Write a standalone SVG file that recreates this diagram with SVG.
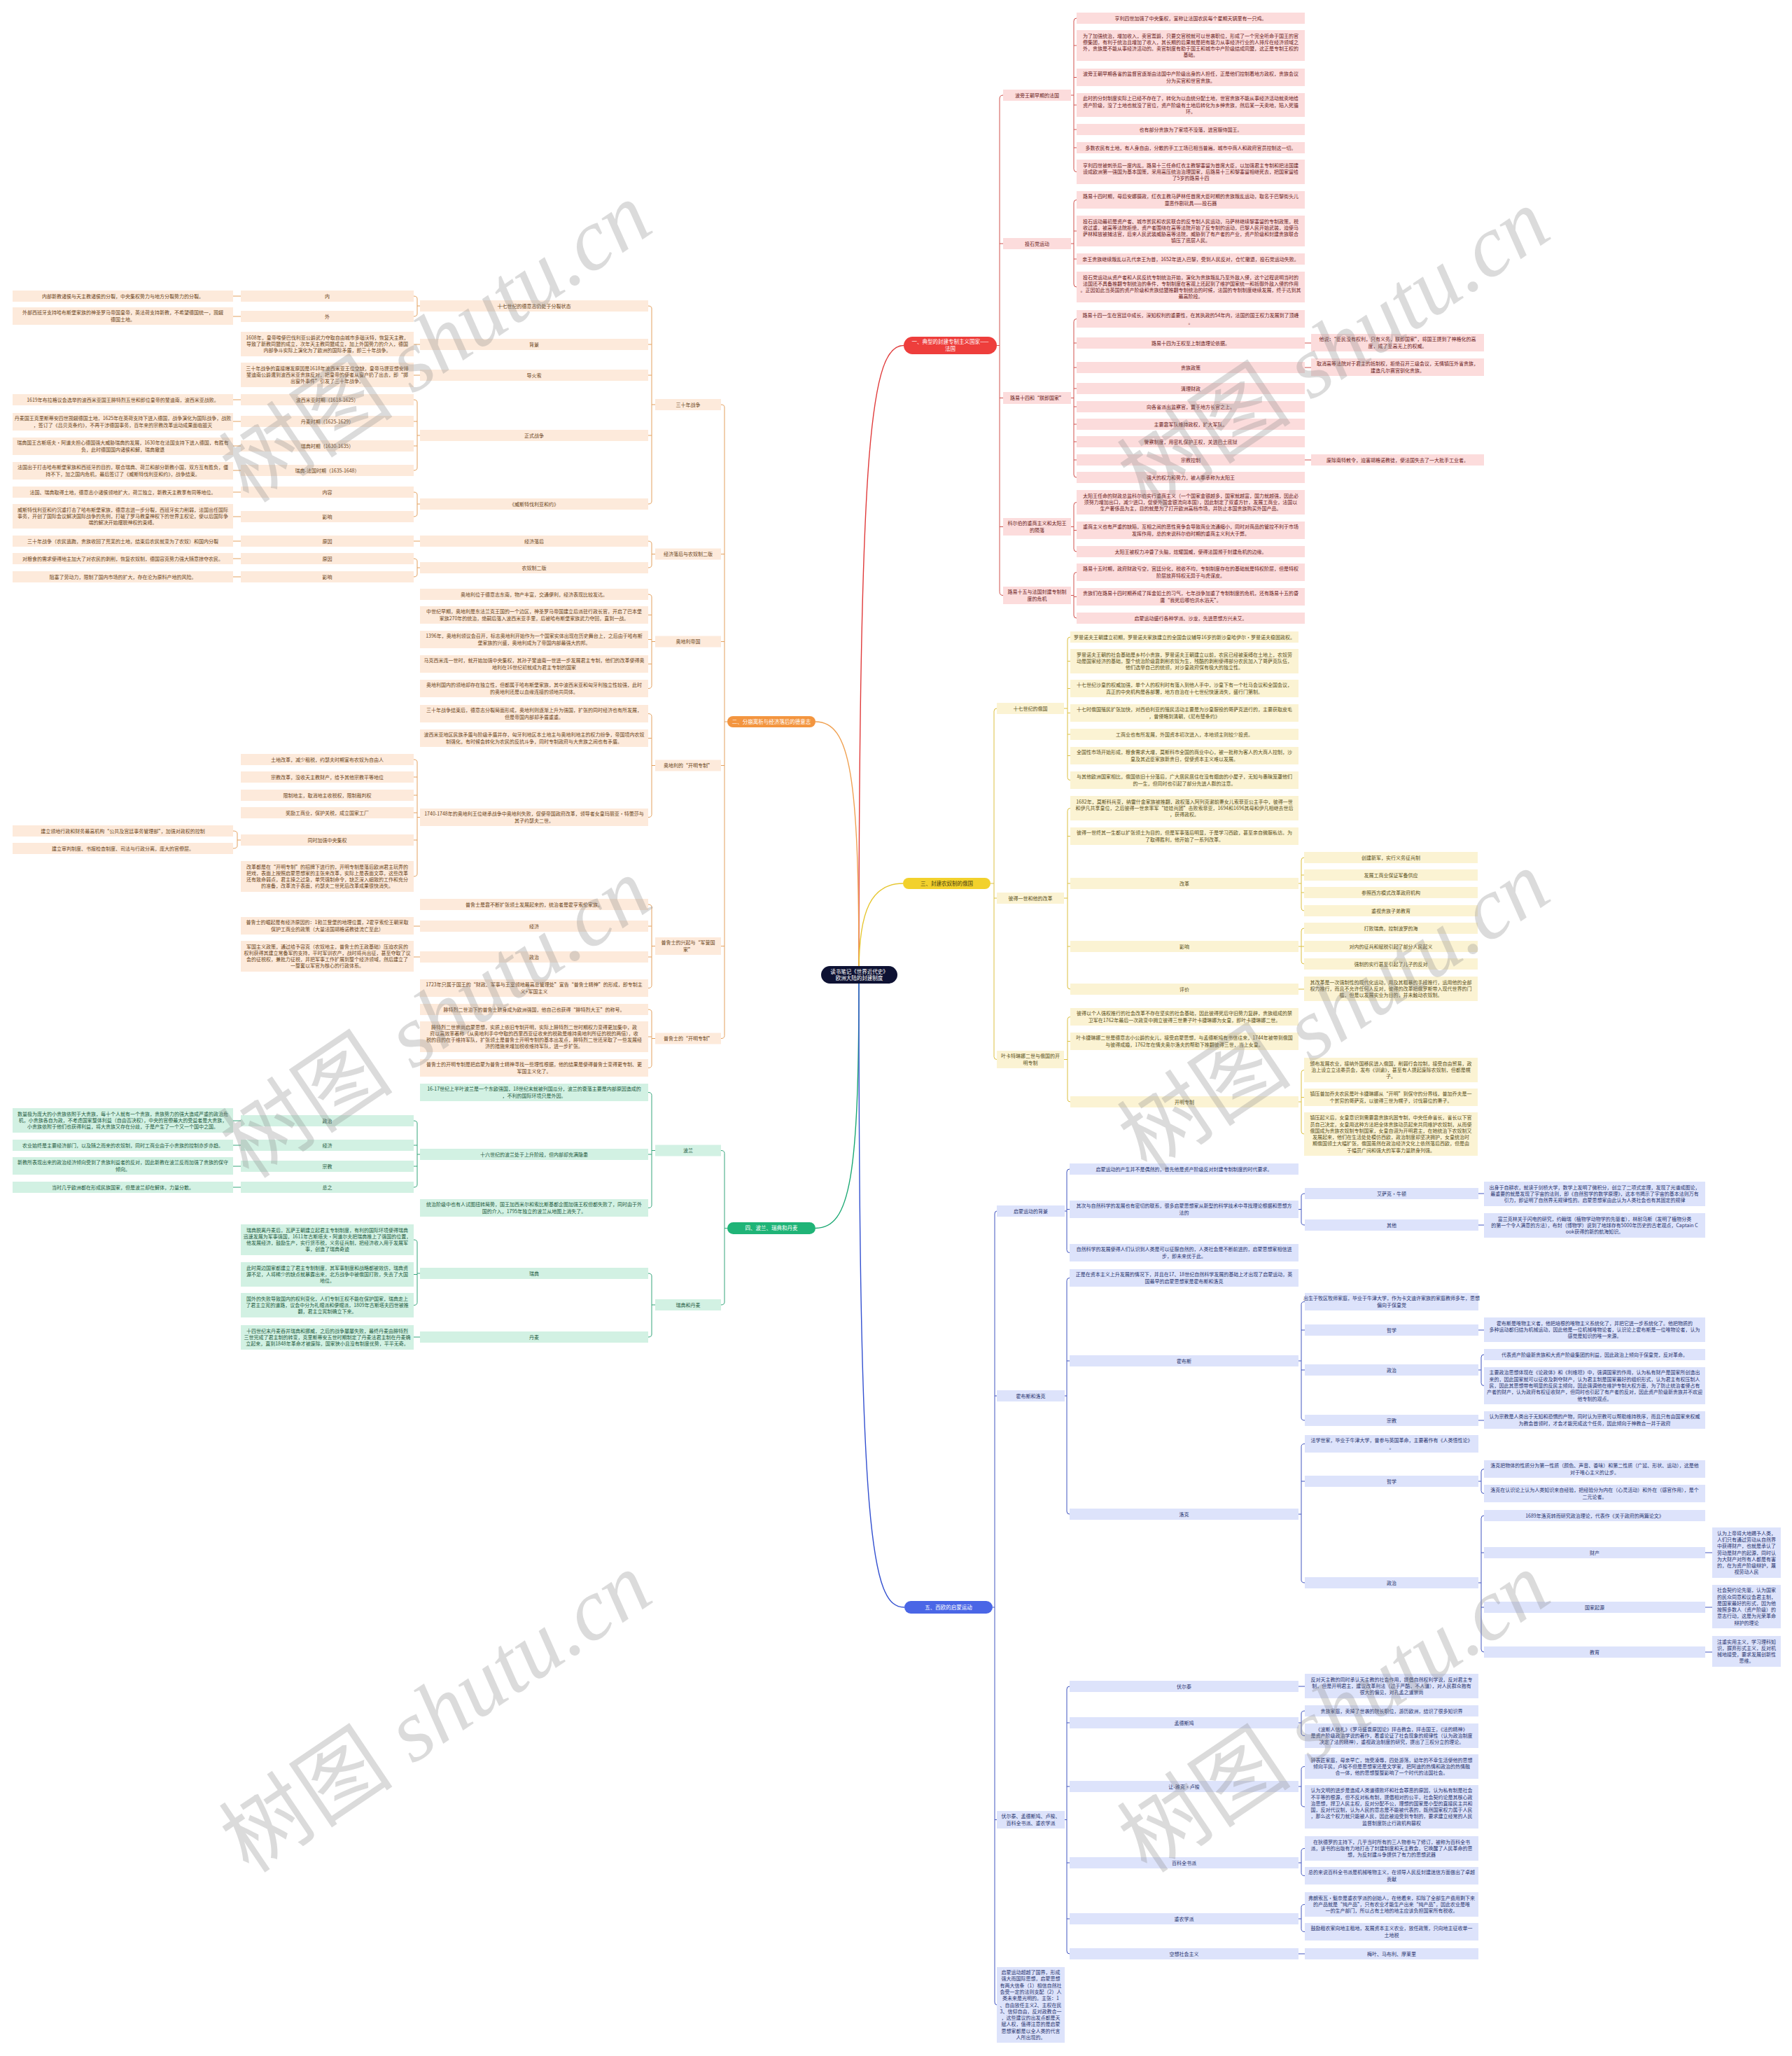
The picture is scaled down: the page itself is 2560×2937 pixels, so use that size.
<svg xmlns="http://www.w3.org/2000/svg" width="2560" height="2937" viewBox="0 0 2560 2937">
<style>
text{font-family:"Noto Sans CJK SC","Noto Sans",sans-serif;font-size:7px;text-anchor:middle}
.r rect{fill:#fcdcdc}.r text{fill:#6a2020}
.o rect{fill:#fdeadb}.o text{fill:#6b4520}
.y rect{fill:#fbf3d3}.y text{fill:#5a5020}
.g rect{fill:#d2f1e3}.g text{fill:#1d5a40}
.b rect{fill:#dde3fb}.b text{fill:#28336e}
.lab text{font-size:7.5px;fill:#fff}
.cr,.co,.cy,.cg,.cb{fill:none;stroke-width:1}
.cr{stroke:#d0504c}.co{stroke:#e3a05e}.cy{stroke:#dcc040}.cg{stroke:#34a57a}.cb{stroke:#4054c0}
.main{fill:none;stroke-width:1.4}
.wm{font-size:125px;fill:#8c8c8c;opacity:.3;text-anchor:start}
</style>
<rect width="2560" height="2937" fill="#fff"/>

<g id="connectors">
<path class="main" stroke="#e03a3a" d="M1227 1380C1227 620 1245 493.5 1291 493.5"/>
<path class="main" stroke="#f0a050" d="M1227 1388C1227 1110 1215 1031 1165 1031"/>
<path class="main" stroke="#e6c630" d="M1227 1388C1227 1300 1245 1262 1290 1262"/>
<path class="main" stroke="#1aa872" d="M1227 1398C1227 1680 1215 1754.5 1165 1754.5"/>
<path class="main" stroke="#3350d0" d="M1227 1405C1227 2200 1245 2296 1292 2296"/>

<path class="cr" d="M1424 493.5H1428M1433 136Q1428 136 1428 141V845.5Q1428 850.5 1433 850.5M1428 348H1433M1428 568.5H1433M1428 752.5H1433"/>
<path class="cr" d="M1530 136H1534M1538 26Q1534 26 1534 30V241.5Q1534 245.5 1538 245.5M1534 65H1538M1534 110.5H1538M1534 150H1538M1534 185H1538M1534 211H1538"/>
<path class="cr" d="M1530 348H1534M1538 285.5Q1534 285.5 1534 289.5V406Q1534 410 1538 410M1534 330H1538M1534 370H1538"/>
<path class="cr" d="M1530 568.5H1534M1538 455.5Q1534 455.5 1534 459.5V678Q1534 682 1538 682M1534 490H1538M1534 525H1538M1534 555H1538M1534 581H1538M1534 606H1538M1534 631H1538M1534 657H1538"/>
<path class="cr" d="M1530 752.5H1534M1538 717.5Q1534 717.5 1534 721.5V784Q1534 788 1538 788M1534 757.5H1538"/>
<path class="cr" d="M1530 850.5H1534M1538 817.5Q1534 817.5 1534 821.5V879Q1534 883 1538 883M1534 852.5H1538"/>
<path class="cr" d="M1864 490H1873M1864 525H1873M1864 657H1873"/>

<path class="cy" d="M1415 1262H1420M1424 1012Q1420 1012 1420 1016V1509.5Q1420 1513.5 1424 1513.5M1420 1283H1424"/>
<path class="cy" d="M1520 1012H1525M1529 910Q1525 910 1525 914V1110.5Q1525 1114.5 1529 1114.5M1525 944.5H1529M1525 983.5H1529M1525 1018.5H1529M1525 1049H1529M1525 1079.5H1529"/>
<path class="cy" d="M1520 1283H1525M1529 1154.5Q1525 1154.5 1525 1158.5V1409Q1525 1413 1529 1413M1525 1194.5H1529M1525 1262H1529M1525 1352H1529"/>
<path class="cy" d="M1520 1513.5H1525M1529 1452.5Q1525 1452.5 1525 1456.5V1570Q1525 1574 1529 1574M1525 1487.5H1529"/>
<path class="cy" d="M1855 1262H1859M1863 1225Q1859 1225 1859 1229V1297Q1859 1301 1863 1301M1859 1250H1863M1859 1275H1863"/>
<path class="cy" d="M1855 1352H1863M1863 1326Q1859 1326 1859 1330V1373Q1859 1377 1863 1377"/>
<path class="cy" d="M1855 1413H1863"/>
<path class="cy" d="M1855 1574H1859M1863 1528.5Q1859 1528.5 1859 1532.5V1616Q1859 1620 1863 1620M1859 1567.5H1863"/>

<path class="cb" d="M1418 2296H1421M1424 1730Q1421 1730 1421 1734V2860Q1421 2864 1424 2864M1421 1994H1424M1421 2599.5H1424"/>
<path class="cb" d="M1521 1730H1524M1528 1670Q1524 1670 1524 1674V1785.5Q1524 1789.5 1528 1789.5M1524 1727.5H1528"/>
<path class="cb" d="M1855 1727.5H1859M1864 1705Q1859 1705 1859 1709V1746Q1859 1750 1864 1750M2112 1705H2120M2112 1750H2120"/>
<path class="cb" d="M1521 1994H1524M1528 1825.5Q1524 1825.5 1524 1829.5V2159Q1524 2163 1528 2163M1524 1944H1528"/>
<path class="cb" d="M1855 1944H1859M1864 1859.5Q1859 1859.5 1859 1863.5V2025Q1859 2029 1864 2029M1859 1900H1864M1859 1957H1864"/>
<path class="cb" d="M2112 1900H2120M2112 1957H2116M2120 1935Q2116 1935 2116 1939V1975.5Q2116 1979.5 2120 1979.5M2112 2029H2120"/>
<path class="cb" d="M1855 2163H1859M1864 2062.5Q1859 2062.5 1859 2066.5V2257Q1859 2261 1864 2261M1859 2116H1864"/>
<path class="cb" d="M2112 2116H2116M2120 2098.5Q2116 2098.5 2116 2102.5V2129.5Q2116 2133.5 2120 2133.5M2112 2261H2116M2120 2165Q2116 2165 2116 2169V2356Q2116 2360 2120 2360M2116 2218H2120M2116 2296H2120M2436 2218H2446M2436 2296H2446M2436 2360H2446"/>
<path class="cb" d="M1521 2599.5H1524M1528 2409Q1524 2409 1524 2413V2787Q1524 2791 1528 2791M1524 2461H1528M1524 2552H1528M1524 2661H1528M1524 2741H1528"/>
<path class="cb" d="M1855 2409H1864M1855 2461H1859M1864 2444Q1859 2444 1859 2448V2475.5Q1859 2479.5 1864 2479.5M1855 2552H1859M1864 2523.5Q1859 2523.5 1859 2527.5V2577Q1859 2581 1864 2581M1855 2661H1859M1864 2640.5Q1859 2640.5 1859 2644.5V2675.5Q1859 2679.5 1864 2679.5M1855 2741H1859M1864 2720.5Q1859 2720.5 1859 2724.5V2755.5Q1859 2759.5 1864 2759.5M1855 2791H1864"/>

<path class="co" d="M1039 1031H1035M1030 578Q1035 578 1035 582V1479.5Q1035 1483.5 1030 1483.5M1035 791.5H1030M1035 916.5H1030M1035 1093.5H1030M1035 1351.5H1030"/>
<path class="co" d="M936 578H931M926 437Q931 437 931 441V716Q931 720 926 720M931 492H926M931 536H926M931 622H926"/>
<path class="co" d="M600 437H596M591 423Q596 423 596 427V448Q596 452 591 452M344 423H333M344 452H333M600 492H591M600 536H591"/>
<path class="co" d="M600 622H596M591 571Q596 571 596 575V668Q596 672 591 672M596 602H591M596 637H591M344 571H333M344 602H333M344 637H333M344 672H333"/>
<path class="co" d="M600 720H596M591 703Q596 703 596 707V734Q596 738 591 738M344 703H333M344 738H333"/>
<path class="co" d="M936 791.5H931M926 773Q931 773 931 777V807Q931 811 926 811M600 773H591M344 773H333M600 811H596M591 798Q596 798 596 802V820Q596 824 591 824M344 798H333M344 824H333"/>
<path class="co" d="M936 916.5H931M926 849Q931 849 931 853V979.5Q931 983.5 926 983.5M931 878.5H926M931 913.5H926M931 948.5H926"/>
<path class="co" d="M936 1093.5H931M926 1019.5Q931 1019.5 931 1023.5V1163.5Q931 1167.5 926 1167.5M931 1054.5H926"/>
<path class="co" d="M600 1167.5H596M591 1085Q596 1085 596 1089V1248Q596 1252 591 1252M596 1110H591M596 1136H591M596 1161H591M596 1200H591M344 1200H339M333 1187Q339 1187 339 1191V1208Q339 1212 333 1212"/>
<path class="co" d="M936 1351.5H931M926 1292Q931 1292 931 1296V1407.5Q931 1411.5 926 1411.5M931 1323H926M931 1367H926M600 1323H591M600 1367H591"/>
<path class="co" d="M936 1483.5H931M926 1442Q931 1442 931 1446V1521.5Q931 1525.5 926 1525.5M931 1481H926"/>

<path class="cg" d="M1039 1754.5H1035M1030 1643.5Q1035 1643.5 1035 1647.5V1860Q1035 1864 1030 1864"/>
<path class="cg" d="M936 1643.5H931M926 1560.5Q931 1560.5 931 1564.5V1721.5Q931 1725.5 926 1725.5M931 1649H926"/>
<path class="cg" d="M600 1649H596M591 1601Q596 1601 596 1605V1692Q596 1696 591 1696M596 1636H591M596 1666H591M344 1601H333M344 1636H333M344 1666H333M344 1696H333"/>
<path class="cg" d="M936 1864H931M926 1819Q931 1819 931 1823V1906Q931 1910 926 1910M600 1819H596M591 1771Q596 1771 596 1775V1860.5Q596 1864.5 591 1864.5M596 1820.5H591M600 1910H591"/>
</g>

<g id="center"><rect x="1173" y="1380" width="109" height="25" rx="12.5" fill="#0e1233"/><text x="1227.5" y="1390.5" style="fill:#fff;font-size:7.5px">读书笔记《世界近代史》<tspan x="1227.5" dy="9.3">欧洲大陆的封建制度</tspan></text></g>

<!-- RED -->
<g id="r0" class="lab"><rect x="1291" y="481" width="133" height="25" rx="12.5" fill="#ee3e3c"/><text x="1357.5" y="491.3">一、典型的封建专制主义国家——<tspan x="1357.5" dy="9.3">法国</tspan></text></g>
<g id="r1" class="r"><rect x="1433" y="128" width="97" height="16"/><text x="1481.5" y="138.5">波旁王朝早期的法国</text></g>
<g id="r2" class="r"><rect x="1433" y="340" width="97" height="16"/><text x="1481.5" y="350.5">投石党运动</text></g>
<g id="r3" class="r"><rect x="1433" y="560" width="97" height="17"/><text x="1481.5" y="571">路易十四和“朕即国家”</text></g>
<g id="r4" class="r"><rect x="1433" y="740" width="97" height="25"/><text x="1481.5" y="750.3">科尔伯的重商主义和太阳王<tspan x="1481.5" dy="9.3">的陨落</tspan></text></g>
<g id="r5" class="r"><rect x="1433" y="838" width="97" height="25"/><text x="1481.5" y="848.3">路易十五与法国封建专制制<tspan x="1481.5" dy="9.3">度的危机</tspan></text></g>

<g id="r1a" class="r"><rect x="1538" y="18" width="326" height="16"/><text x="1701" y="28.5">亨利四世加强了中央集权，宣称让法国农民每个星期天锅里有一只鸡。</text></g>
<g id="r1b" class="r"><rect x="1538" y="43" width="326" height="44"/><text x="1701" y="53.5">为了加强统治，增加收入，卖官鬻爵，只要交官税就可以世袭职位，形成了一个完全听命于国王的官<tspan x="1701" dy="9.3">僚集团，有利于统治且增加了收入，其长期的后果就是把有能力从事经济行业的人排斥在经济领域之</tspan><tspan x="1701" dy="9.3">外，贵族是不能从事经济活动的。卖官制度有助于国王和城市中产阶级结成同盟，这正是专制王权的</tspan><tspan x="1701" dy="9.3">基础。</tspan></text></g>
<g id="r1c" class="r"><rect x="1538" y="98" width="326" height="25"/><text x="1701" y="108.3">波旁王朝早期各省的监督官逐渐由法国中产阶级出身的人担任，正是他们控制着地方政权，贵族会议<tspan x="1701" dy="9.3">分为买官和世官贵族。</tspan></text></g>
<g id="r1d" class="r"><rect x="1538" y="133" width="326" height="34"/><text x="1701" y="143.2">此时的分封制度实际上已经不存在了，转化为以血统分配土地，世官贵族不能从事经济活动就卖地给<tspan x="1701" dy="9.3">资产阶级，没了土地也就没了官位，资产阶级有土地后转化为乡绅贵族，然后某一天卖地，陷入死循</tspan><tspan x="1701" dy="9.3">环。</tspan></text></g>
<g id="r1e" class="r"><rect x="1538" y="177" width="326" height="16"/><text x="1701" y="187.5">也有部分贵族为了家境不没落，进宫服侍国王。</text></g>
<g id="r1f" class="r"><rect x="1538" y="203" width="326" height="16"/><text x="1701" y="213.5">多数农民有土地，有人身自由，分散的手工工场已相当普遍，城市中商人和政府官员控制这一切。</text></g>
<g id="r1g" class="r"><rect x="1538" y="228" width="326" height="35"/><text x="1701" y="238.7">亨利四世被刺杀后一度内乱，路易十三任命红衣主教黎塞留为首席大臣，以加强君主专制和把法国建<tspan x="1701" dy="9.3">设成欧洲第一强国为基本国策，采用高压统治治理国家，后路易十三和黎塞留相继死去，把国家留给</tspan><tspan x="1701" dy="9.3">了5岁的路易十四</tspan></text></g>

<g id="r2a" class="r"><rect x="1538" y="273" width="326" height="25"/><text x="1701" y="283.3">路易十四时期，母后安娜摄政，红衣主教马萨林任首席大臣时期的贵族叛乱运动，取名于巴黎街头儿<tspan x="1701" dy="9.3">童恶作剧玩具——投石器</tspan></text></g>
<g id="r2b" class="r"><rect x="1538" y="308" width="326" height="44"/><text x="1701" y="318.5">投石运动最初是资产者、城市贫民和农民联合的反专制人民运动，马萨林继续黎塞留的专制政策，税<tspan x="1701" dy="9.3">收过重，被高等法院拒绝，资产者围绕在高等法院开始了反专制的运动，巴黎人民开始武装，迫使马</tspan><tspan x="1701" dy="9.3">萨林释放被捕法官，后来人民武装威胁高等法院，威胁到了有产者的产业，资产阶级和封建贵族联合</tspan><tspan x="1701" dy="9.3">镇压了底层人民。</tspan></text></g>
<g id="r2c" class="r"><rect x="1538" y="362" width="326" height="16"/><text x="1701" y="372.5">亲王贵族继续叛乱以孔代亲王为首，1652年进入巴黎，受到人民反对，仓忙撤退，投石党运动失败。</text></g>
<g id="r2d" class="r"><rect x="1538" y="388" width="326" height="44"/><text x="1701" y="398.5">投石党运动从资产者和人民反抗专制统治开始，演化为贵族叛乱乃至外敌入侵，这个过程说明当时的<tspan x="1701" dy="9.3">法国还不具备推翻专制统治的条件，专制制度在客观上还起到了维护国家统一和抵御外敌入侵的作用</tspan><tspan x="1701" dy="9.3">。正因如此当英国的资产阶级和贵族结盟推翻专制统治的时候，法国的专制制度继续发展，终于达到其</tspan><tspan x="1701" dy="9.3">最高阶段。</tspan></text></g>

<g id="r3a" class="r"><rect x="1538" y="443" width="326" height="25"/><text x="1701" y="453.3">路易十四一生在宫廷中成长，深知权利的重要性，在其执政的54年内，法国的国王权力发展到了顶峰<tspan x="1701" dy="9.3">。</tspan></text></g>
<g id="r3b" class="r"><rect x="1538" y="482" width="326" height="16"/><text x="1701" y="492.5">路易十四为王权至上制造理论依据。</text></g>
<g id="r3b1" class="r"><rect x="1873" y="477" width="247" height="25"/><text x="1996.5" y="487.3">他说：“臣民没有权利，只有义务，朕即国家”，将国王提到了神格化的高<tspan x="1996.5" dy="9.3">度，成了至高无上的权威。</tspan></text></g>
<g id="r3c" class="r"><rect x="1538" y="517" width="326" height="16"/><text x="1701" y="527.5">贵族政策</text></g>
<g id="r3c1" class="r"><rect x="1873" y="512" width="247" height="25"/><text x="1996.5" y="522.3">取消高等法院对于君主的抵制权，拒绝召开三级会议，无情镇压外省贵族，<tspan x="1996.5" dy="9.3">建造凡尔赛宫驯化贵族。</tspan></text></g>
<g id="r3d" class="r"><rect x="1538" y="547" width="326" height="16"/><text x="1701" y="557.5">清理财政</text></g>
<g id="r3e" class="r"><rect x="1538" y="573" width="326" height="16"/><text x="1701" y="583.5">向各省派出监察官，置于地方长官之上。</text></g>
<g id="r3f" class="r"><rect x="1538" y="598" width="326" height="16"/><text x="1701" y="608.5">主要靠军队维持政权，扩大军队。</text></g>
<g id="r3g" class="r"><rect x="1538" y="623" width="326" height="16"/><text x="1701" y="633.5">警察制度，用密札保护王权，关进巴士底狱</text></g>
<g id="r3h" class="r"><rect x="1538" y="649" width="326" height="16"/><text x="1701" y="659.5">宗教控制</text></g>
<g id="r3h1" class="r"><rect x="1873" y="649" width="247" height="16"/><text x="1996.5" y="659.5">废除南特敕令，迫害胡格诺教徒，使法国失去了一大批手工业者。</text></g>
<g id="r3i" class="r"><rect x="1538" y="674" width="326" height="16"/><text x="1701" y="684.5">强大的权力和势力，被人奉承称为太阳王</text></g>

<g id="r4a" class="r"><rect x="1538" y="700" width="326" height="35"/><text x="1701" y="710.7">太阳王任命的财政总监科尔伯实行重商主义（一个国家金银越多，国家就越富，国力就越强，因此必<tspan x="1701" dy="9.3">须努力增加出口，减少进口，促使外国金银流向本国），因此制定了双重方针，发展工商业，法国以</tspan><tspan x="1701" dy="9.3">生产奢侈品为主，目的就是为了打开欧洲高档市场，并防止本国贵族购买外国产品。</tspan></text></g>
<g id="r4b" class="r"><rect x="1538" y="745" width="326" height="25"/><text x="1701" y="755.3">重商主义也有严重的缺陷，互相之间的恶性竞争会导致商业流通缩小，同时对商品的管控不利于市场<tspan x="1701" dy="9.3">发挥作用，总的来说科尔伯时期的重商主义利大于弊。</tspan></text></g>
<g id="r4c" class="r"><rect x="1538" y="780" width="326" height="16"/><text x="1701" y="790.5">太阳王被权力冲昏了头脑，炫耀国威，使得法国濒于封建危机的边缘。</text></g>
<g id="r5a" class="r"><rect x="1538" y="805" width="326" height="25"/><text x="1701" y="815.3">路易十五时期，政府财政亏空，宫廷分化，税收不均，专制制度存在的基础就是特权阶层，但是特权<tspan x="1701" dy="9.3">阶层放弃特权无异于与虎谋皮。</tspan></text></g>
<g id="r5b" class="r"><rect x="1538" y="840" width="326" height="25"/><text x="1701" y="850.3">贵族们在路易十四时期养成了挥金如土的习气，七年战争加重了专制制度的危机，还有路易十五的昏<tspan x="1701" dy="9.3">庸“我死后哪怕洪水滔天”。</tspan></text></g>
<g id="r5c" class="r"><rect x="1538" y="875" width="326" height="16"/><text x="1701" y="885.5">启蒙运动盛行各种学派、沙龙，先进思想方兴未艾。</text></g>

<!-- YELLOW -->
<g id="y0"><rect x="1290" y="1254" width="125" height="16" rx="8" fill="#f2d12c"/><text x="1352.5" y="1264.7" style="font-size:7.5px;fill:#4a4010">三、封建农奴制的俄国</text></g>
<g id="y1" class="y"><rect x="1424" y="1004" width="96" height="16"/><text x="1472" y="1014.5">十七世纪的俄国</text></g>
<g id="y2" class="y"><rect x="1424" y="1275" width="96" height="16"/><text x="1472" y="1285.5">彼得一世和他的改革</text></g>
<g id="y3" class="y"><rect x="1424" y="1501" width="96" height="25"/><text x="1472" y="1511.3">叶卡特琳娜二世与俄国的开<tspan x="1472" dy="9.3">明专制</tspan></text></g>

<g id="y1a" class="y"><rect x="1529" y="902" width="326" height="16"/><text x="1692" y="912.5">罗曼诺夫王朝建立初期，罗曼诺夫家族建立的全国会议辅导16岁的新沙皇哈伊尔·罗曼诺夫稳固政权。</text></g>
<g id="y1b" class="y"><rect x="1529" y="927" width="326" height="35"/><text x="1692" y="937.7">罗曼诺夫王朝的社会基础是乡村小贵族，罗曼诺夫王朝建立以前，农民已经被束缚在土地上，农奴劳<tspan x="1692" dy="9.3">动是国家经济的基础，整个统治阶级靠剥削农奴为生，残酷的剥削使得部分农民加入了哥萨克队伍，</tspan><tspan x="1692" dy="9.3">他们选举自己的统领，对沙皇政府保有极大的独立性。</tspan></text></g>
<g id="y1c" class="y"><rect x="1529" y="971" width="326" height="25"/><text x="1692" y="981.3">十七世纪沙皇的权威加强，单个人的权利时有落入到他人手中，沙皇下有一个杜马会议和全国会议，<tspan x="1692" dy="9.3">真正的中央机构是各部署，地方自治在十七世纪快速消失，盛行门第制。</tspan></text></g>
<g id="y1d" class="y"><rect x="1529" y="1006" width="326" height="25"/><text x="1692" y="1016.3">十七时俄国殖民扩张加快，对西伯利亚的殖民活动主要是为沙皇服役的哥萨克进行的，主要获取皮毛<tspan x="1692" dy="9.3">，曾侵略到清朝，《尼布楚条约》</tspan></text></g>
<g id="y1e" class="y"><rect x="1529" y="1041" width="326" height="16"/><text x="1692" y="1051.5">工商业也有所发展，外国资本初次进入，本地领主则较少投资。</text></g>
<g id="y1f" class="y"><rect x="1529" y="1067" width="326" height="25"/><text x="1692" y="1077.3">全国性市场开始形成，粮食需求大增，莫斯科市全国的商业中心，被一批称为客人的大商人控制，沙<tspan x="1692" dy="9.3">皇及其近臣家族新贵日，促使资本主义难以发展。</tspan></text></g>
<g id="y1g" class="y"><rect x="1529" y="1102" width="326" height="25"/><text x="1692" y="1112.3">与其他欧洲国家相比，俄国依旧十分落后，广大居民居住在没有烟囱的小屋子，无知与愚昧笼罩他们<tspan x="1692" dy="9.3">的一生，但同时也引起了部分先进人群的注意。</tspan></text></g>

<g id="y2a" class="y"><rect x="1529" y="1137" width="326" height="35"/><text x="1692" y="1147.7">1682年，莫斯科兵变，纳雷什金家族被推翻，政权落入阿列克谢前妻女儿索菲亚公主手中，彼得一世<tspan x="1692" dy="9.3">和伊凡共享皇位，之后彼得一世亲率军“娃娃兵团”击败索菲亚，1694和1696其母和伊凡相继去世后</tspan><tspan x="1692" dy="9.3">，获得政权。</tspan></text></g>
<g id="y2b" class="y"><rect x="1529" y="1182" width="326" height="25"/><text x="1692" y="1192.3">彼得一世终其一生都以扩张领土为目的，但是军事落后明显，于是学习西欧，甚至亲自微服私访。为<tspan x="1692" dy="9.3">了取得胜利，他开始了一系列改革。</tspan></text></g>
<g id="y2c" class="y"><rect x="1529" y="1254" width="326" height="16"/><text x="1692" y="1264.5">改革</text></g>
<g id="y2d" class="y"><rect x="1529" y="1344" width="326" height="16"/><text x="1692" y="1354.5">影响</text></g>
<g id="y2e" class="y"><rect x="1529" y="1405" width="326" height="16"/><text x="1692" y="1415.5">评价</text></g>
<g id="y2c1" class="y"><rect x="1863" y="1217" width="248" height="16"/><text x="1987" y="1227.5">创建新军，实行义务征兵制</text></g>
<g id="y2c2" class="y"><rect x="1863" y="1242" width="248" height="16"/><text x="1987" y="1252.5">发展工商业保证军备供应</text></g>
<g id="y2c3" class="y"><rect x="1863" y="1267" width="248" height="16"/><text x="1987" y="1277.5">参照西方模式改革政府机构</text></g>
<g id="y2c4" class="y"><rect x="1863" y="1293" width="248" height="16"/><text x="1987" y="1303.5">重视贵族子弟教育</text></g>
<g id="y2d1" class="y"><rect x="1863" y="1318" width="248" height="16"/><text x="1987" y="1328.5">打败瑞典，控制波罗的海</text></g>
<g id="y2d2" class="y"><rect x="1863" y="1344" width="248" height="16"/><text x="1987" y="1354.5">对内的征兵和赋税引起了部分人民起义</text></g>
<g id="y2d3" class="y"><rect x="1863" y="1369" width="248" height="16"/><text x="1987" y="1379.5">强制的实行甚至引起了儿子的反对</text></g>
<g id="y2e1" class="y"><rect x="1863" y="1395" width="248" height="35"/><text x="1987" y="1405.7">其改革是一次强制性的现代化运动，用及其粗暴的手段推行，运用他的全部<tspan x="1987" dy="9.3">权力推行，而且不允许任何人反对，彼得的改革把俄罗斯带入现代世界的门</tspan><tspan x="1987" dy="9.3">槛，但是以发展实业为目的，并未触动农奴制。</tspan></text></g>

<g id="y3a" class="y"><rect x="1529" y="1440" width="326" height="25"/><text x="1692" y="1450.3">彼得以个人强权推行的社会改革不存在坚实的社会基础，因此彼得死后守旧势力复辟，贵族组成的禁<tspan x="1692" dy="9.3">卫军在1762年最后一次政变中拥立彼得三世妻子叶卡捷琳娜为女皇，即叶卡捷琳娜二世。</tspan></text></g>
<g id="y3b" class="y"><rect x="1529" y="1475" width="326" height="25"/><text x="1692" y="1485.3">叶卡捷琳娜二世是德意志小公爵的女儿，接受启蒙思想，与孟德斯鸠有书信往来，1744年被带到俄国<tspan x="1692" dy="9.3">与彼得成婚，1762年在情夫奥尔洛夫的帮助下推翻彼得三世，当上女皇。</tspan></text></g>
<g id="y3c" class="y"><rect x="1529" y="1566" width="326" height="16"/><text x="1692" y="1576.5">开明专制</text></g>
<g id="y3c1" class="y"><rect x="1863" y="1511" width="248" height="35"/><text x="1987" y="1521.7">颁布发展农业，接纳外国移民进入俄国，削弱行会控制，接受自由贸易，政<tspan x="1987" dy="9.3">治上设立立法委员会，发布《训谕》，甚至有人提起废除农奴制，但都是幌</tspan><tspan x="1987" dy="9.3">子。</tspan></text></g>
<g id="y3c2" class="y"><rect x="1863" y="1555" width="248" height="25"/><text x="1987" y="1565.3">镇压普加乔夫农民是叶卡捷琳娜从“开明”到保守的分界线，普加乔夫是一<tspan x="1987" dy="9.3">个贫穷的哥萨克，以彼得三世为幌子，讨伐篡位的妻子。</tspan></text></g>
<g id="y3c3" class="y"><rect x="1863" y="1589" width="248" height="62"/><text x="1987" y="1599.2">镇压起义后，女皇意识到需要靠贵族巩固专制，中央任命省长，省长以下官<tspan x="1987" dy="9.3">员自己决定，女皇用这种方法把全体贵族动员起来共同维护农奴制，从而使</tspan><tspan x="1987" dy="9.3">俄国成为贵族农奴制专制国家，女皇自诩为开明君主，在她统治下农奴制又</tspan><tspan x="1987" dy="9.3">发展起来，他们在生活处处模仿西欧，政治制度却坚决拥护，女皇统治时</tspan><tspan x="1987" dy="9.3">期俄国领土大幅扩张，俄国虽然在政治经济文化上依然落后西欧，但是由</tspan><tspan x="1987" dy="9.3">于幅员广阔和强大的军事力量跻身列强。</tspan></text></g>

<!-- BLUE -->
<g id="b0" class="lab"><rect x="1292" y="2287" width="126" height="18" rx="9" fill="#4a66e6"/><text x="1355" y="2298.7">五、西欧的启蒙运动</text></g>
<g id="b1" class="b"><rect x="1424" y="1722" width="97" height="16"/><text x="1472.5" y="1732.5">启蒙运动的背景</text></g>
<g id="b2" class="b"><rect x="1424" y="1986" width="97" height="16"/><text x="1472.5" y="1996.5">霍布斯和洛克</text></g>
<g id="b3" class="b"><rect x="1424" y="2587" width="97" height="25"/><text x="1472.5" y="2597.3">伏尔泰、孟德斯鸠、卢梭、<tspan x="1472.5" dy="9.3">百科全书派、重农学派</tspan></text></g>
<g id="b4" class="b"><rect x="1424" y="2810" width="97" height="108"/><text x="1472.5" y="2820">启蒙运动超越了国界，形成<tspan x="1472.5" dy="9.3">强大而国际思想，启蒙思想</tspan><tspan x="1472.5" dy="9.3">有两大信条（1）相信自然社</tspan><tspan x="1472.5" dy="9.3">会受一定的法则支配（2）人</tspan><tspan x="1472.5" dy="9.3">类未来是光明的。主张：1</tspan><tspan x="1472.5" dy="9.3">、自由放任主义2、主权在民</tspan><tspan x="1472.5" dy="9.3">3、信仰自由，反对政教合一</tspan><tspan x="1472.5" dy="9.3">，这些建议的出发点都是天</tspan><tspan x="1472.5" dy="9.3">赋人权，值得注意的是启蒙</tspan><tspan x="1472.5" dy="9.3">思想家都是以全人类的代言</tspan><tspan x="1472.5" dy="9.3">人所出现的。</tspan></text></g>

<g id="b1a" class="b"><rect x="1528" y="1662" width="327" height="16"/><text x="1691.5" y="1672.5">启蒙运动的产生并不是偶然的，首先他是资产阶级反对封建专制制度的时代要求。</text></g>
<g id="b1b" class="b"><rect x="1528" y="1715" width="327" height="25"/><text x="1691.5" y="1725.3">其次与自然科学的发展也有密切的联系，很多启蒙思想家从新型的科学技术中寻找理论根据和思想方<tspan x="1691.5" dy="9.3">法的</tspan></text></g>
<g id="b1c" class="b"><rect x="1528" y="1777" width="327" height="25"/><text x="1691.5" y="1787.3">自然科学的发展使得人们认识到人类是可以征服自然的，人类社会是不断前进的，启蒙思想家相信进<tspan x="1691.5" dy="9.3">步，即未来优于此。</tspan></text></g>
<g id="b1b1" class="b"><rect x="1864" y="1697" width="248" height="16"/><text x="1988" y="1707.5">艾萨克·牛顿</text></g>
<g id="b1b2" class="b"><rect x="1864" y="1742" width="248" height="16"/><text x="1988" y="1752.5">其他</text></g>
<g id="b1b1a" class="b"><rect x="2120" y="1688" width="316" height="35"/><text x="2278" y="1698.7">出身于自耕农，就读于剑桥大学，数学上发明了微积分，创立了二项式定理，发现了光谱成图论，<tspan x="2278" dy="9.3">最重要的就是发现了宇宙的法则，即《自然哲学的数学原理》，这本书揭示了宇宙的基本法则万有</tspan><tspan x="2278" dy="9.3">引力，即证明了自然界无规律性的。启蒙思想家由此认为人类社会也有其固定的规律</tspan></text></g>
<g id="b1b2a" class="b"><rect x="2120" y="1733" width="316" height="35"/><text x="2278" y="1743.7">富兰克林关于闪电的研究，约翰瑞（植物学动物学的先驱者），林耐乌斯（发明了植物分类<tspan x="2278" dy="9.3">的第一个令人满意的方法），布封（博物学）说到了地球存有5000年历史的古老观点，Captain C</tspan><tspan x="2278" dy="9.3">ook获得的新的航海知识。</tspan></text></g>

<g id="b2a" class="b"><rect x="1528" y="1813" width="327" height="25"/><text x="1691.5" y="1823.3">正是在资本主义上升发展的情况下，并且在17、18世纪自然科学发展的基础上才出现了启蒙运动，英<tspan x="1691.5" dy="9.3">国最早的启蒙思想家是霍布斯和洛克</tspan></text></g>
<g id="b2b" class="b"><rect x="1528" y="1936" width="327" height="16"/><text x="1691.5" y="1946.5">霍布斯</text></g>
<g id="b2c" class="b"><rect x="1528" y="2155" width="327" height="16"/><text x="1691.5" y="2165.5">洛克</text></g>
<g id="b2b1" class="b"><rect x="1864" y="1847" width="248" height="25"/><text x="1988" y="1857.3">出生于牧区牧师家庭，毕业于牛津大学，作为卡文迪许家族的家庭教师多年，思想<tspan x="1988" dy="9.3">偏向于保皇党</tspan></text></g>
<g id="b2b2" class="b"><rect x="1864" y="1892" width="248" height="16"/><text x="1988" y="1902.5">哲学</text></g>
<g id="b2b3" class="b"><rect x="1864" y="1949" width="248" height="16"/><text x="1988" y="1959.5">政治</text></g>
<g id="b2b4" class="b"><rect x="1864" y="2021" width="248" height="16"/><text x="1988" y="2031.5">宗教</text></g>
<g id="b2b2a" class="b"><rect x="2120" y="1882" width="316" height="35"/><text x="2278" y="1892.7">霍布斯是唯物主义者，他把培根的唯物主义系统化了，并把它进一步系统化了。他把物质的<tspan x="2278" dy="9.3">多种运动都归结为机械运动，因此他是一位机械唯物论者，认识论上霍布斯是一位唯物论者，认为</tspan><tspan x="2278" dy="9.3">感觉是知识的唯一来源。</tspan></text></g>
<g id="b2b3a" class="b"><rect x="2120" y="1927" width="316" height="16"/><text x="2278" y="1937.5">代表资产阶级新贵族和大资产阶级集团的利益，因此政治上倾向于保皇党，反对革命。</text></g>
<g id="b2b3b" class="b"><rect x="2120" y="1953" width="316" height="53"/><text x="2278" y="1963.4">主要政治思想体现在《论政体》和《利维坦》中，强调国家的作用，认为私有财产是国家所创造出<tspan x="2278" dy="9.3">来的，因此国家就可以征收及剥夺财产，认为君主制是国家最好的组织形式，认为君主有权压制人</tspan><tspan x="2278" dy="9.3">民，因此其思想带有明显的反民主倾向，因此强调他在维护专制大权方面，为了防止统治者侵占有</tspan><tspan x="2278" dy="9.3">产者的财产，认为政府有权征收财产，但同时也引起了有产者的反对，因此资产阶级新贵族并不欢迎</tspan><tspan x="2278" dy="9.3">他专制的观点。</tspan></text></g>
<g id="b2b4a" class="b"><rect x="2120" y="2016" width="316" height="25"/><text x="2278" y="2026.3">认为宗教是人类出于无知和恐惧的产物，同时认为宗教可以帮助维持秩序，而且只有由国家来权威<tspan x="2278" dy="9.3">为教会首领时，才会才能完成这个任务，因此倾向于神教合一并于政府</tspan></text></g>

<g id="b2c1" class="b"><rect x="1864" y="2050" width="248" height="25"/><text x="1988" y="2060.3">法学世家，毕业于牛津大学，曾参与英国革命，主要著作有《人类悟性论》<tspan x="1988" dy="9.3">。</tspan></text></g>
<g id="b2c2" class="b"><rect x="1864" y="2108" width="248" height="16"/><text x="1988" y="2118.5">哲学</text></g>
<g id="b2c3" class="b"><rect x="1864" y="2253" width="248" height="16"/><text x="1988" y="2263.5">政治</text></g>
<g id="b2c2a" class="b"><rect x="2120" y="2086" width="316" height="25"/><text x="2278" y="2096.3">洛克把物体的性质分为第一性质（颜色、声音、香味）和第二性质（广延、形状、运动），这是他<tspan x="2278" dy="9.3">对于唯心主义的让步。</tspan></text></g>
<g id="b2c2b" class="b"><rect x="2120" y="2121" width="316" height="25"/><text x="2278" y="2131.3">洛克在认识论上认为人类知识来自经验，把经验分为内在（心灵活动）和外在（感官作用），是个<tspan x="2278" dy="9.3">二元论者。</tspan></text></g>
<g id="b2c3a" class="b"><rect x="2120" y="2157" width="316" height="16"/><text x="2278" y="2167.5">1689年洛克转而研究政治理论，代表作《关于政府的两篇论文》</text></g>
<g id="b2c3b" class="b"><rect x="2120" y="2210" width="316" height="16"/><text x="2278" y="2220.5">财产</text></g>
<g id="b2c3c" class="b"><rect x="2120" y="2288" width="316" height="16"/><text x="2278" y="2298.5">国家起源</text></g>
<g id="b2c3d" class="b"><rect x="2120" y="2352" width="316" height="16"/><text x="2278" y="2362.5">教育</text></g>
<g id="b2c3b1" class="b"><rect x="2446" y="2182" width="98" height="72"/><text x="2495" y="2192.6">认为上帝将大地赐予人类，<tspan x="2495" dy="9.3">人们只有通过劳动从自然界</tspan><tspan x="2495" dy="9.3">中获得财产，也就是承认了</tspan><tspan x="2495" dy="9.3">劳动是财产的起源，同时认</tspan><tspan x="2495" dy="9.3">为大财产对所有人都是有害</tspan><tspan x="2495" dy="9.3">的，在为资产阶级辩护，蔑</tspan><tspan x="2495" dy="9.3">视劳动人民</tspan></text></g>
<g id="b2c3c1" class="b"><rect x="2446" y="2264" width="98" height="62"/><text x="2495" y="2274.2">社会契约论先驱，认为国家<tspan x="2495" dy="9.3">的民众同意和议会君主制，</tspan><tspan x="2495" dy="9.3">是国家最好的形式，因为他</tspan><tspan x="2495" dy="9.3">按照多数人（资产阶级）的</tspan><tspan x="2495" dy="9.3">意志行动，这是为光荣革命</tspan><tspan x="2495" dy="9.3">辩护的理论</tspan></text></g>
<g id="b2c3d1" class="b"><rect x="2446" y="2337" width="98" height="44"/><text x="2495" y="2347.5">注重实用主义，学习理科知<tspan x="2495" dy="9.3">识，摒弃形式主义，反对机</tspan><tspan x="2495" dy="9.3">械地接受，要求发展创新性</tspan><tspan x="2495" dy="9.3">思维。</tspan></text></g>

<g id="b3a" class="b"><rect x="1528" y="2401" width="327" height="16"/><text x="1691.5" y="2411.5">伏尔泰</text></g>
<g id="b3b" class="b"><rect x="1528" y="2453" width="327" height="16"/><text x="1691.5" y="2463.5">孟德斯鸠</text></g>
<g id="b3c" class="b"><rect x="1528" y="2544" width="327" height="16"/><text x="1691.5" y="2554.5">让-雅克·卢梭</text></g>
<g id="b3d" class="b"><rect x="1528" y="2653" width="327" height="16"/><text x="1691.5" y="2663.5">百科全书派</text></g>
<g id="b3e" class="b"><rect x="1528" y="2733" width="327" height="16"/><text x="1691.5" y="2743.5">重农学派</text></g>
<g id="b3f" class="b"><rect x="1528" y="2783" width="327" height="16"/><text x="1691.5" y="2793.5">空想社会主义</text></g>
<g id="b3a1" class="b"><rect x="1864" y="2391" width="248" height="35"/><text x="1988" y="2401.7">反对天主教的同时承认天主教的社会作用，提倡自然权利学说，反对君主专<tspan x="1988" dy="9.3">制，但是开明君主，建议改革刑法（过于严酷，不人道），对人民群众抱有</tspan><tspan x="1988" dy="9.3">很大的偏见，对孔孟之道崇尚</tspan></text></g>
<g id="b3b1" class="b"><rect x="1864" y="2436" width="248" height="16"/><text x="1988" y="2446.5">贵族家庭，卖掉了世袭的院长职位，游历欧洲，结识了很多知识界</text></g>
<g id="b3b2" class="b"><rect x="1864" y="2462" width="248" height="35"/><text x="1988" y="2472.7">《波斯人信札》《罗马盛衰原因论》抨击教会，抨击国王，《法的精神》<tspan x="1988" dy="9.3">是资产阶级政治学说的著作，着重论证了社会现象的规律性（认为政治制度</tspan><tspan x="1988" dy="9.3">决定了法的精神），重视政治制度的研究，提出了三权分立的理论。</tspan></text></g>
<g id="b3c1" class="b"><rect x="1864" y="2506" width="248" height="35"/><text x="1988" y="2516.7">钟表匠家庭，母亲早亡，饱受凌辱，四处游荡，幼年的不幸生活使他的思想<tspan x="1988" dy="9.3">倾向平民，卢梭不但是思想家还是文学家，把阿迪的热情和政治的热情融</tspan><tspan x="1988" dy="9.3">合一体，他的思想整整影响了一个时代的法国社会。</tspan></text></g>
<g id="b3c2" class="b"><rect x="1864" y="2550" width="248" height="62"/><text x="1988" y="2560.2">认为文明的进步是造成人类道德败坏和社会罪恶的原因，认为私有制是社会<tspan x="1988" dy="9.3">不平等的根源，但不反对私有制，提倡相对的公平，社会契约论是其核心政</tspan><tspan x="1988" dy="9.3">治思想，捍卫人民主权，反对分配不公，理想的国家是小型的直接民主共和</tspan><tspan x="1988" dy="9.3">国，反对代议制，认为人民的意志是不能被代表的，既然国家权力属于人民</tspan><tspan x="1988" dy="9.3">，那么这个权力就只能被人民，因此被迫受到专制的，要求建立经常的人民</tspan><tspan x="1988" dy="9.3">监督制度防止行政机构篡权</tspan></text></g>
<g id="b3d1" class="b"><rect x="1864" y="2623" width="248" height="35"/><text x="1988" y="2633.7">在狄德罗的主持下，几乎当时所有的三人物参与了修订，被称为百科全书<tspan x="1988" dy="9.3">派，该书的出版有力地打击了封建制度和天主教会，它唤醒了人民革命的思</tspan><tspan x="1988" dy="9.3">想，为反封建斗争提供了有力的思想武器</tspan></text></g>
<g id="b3d2" class="b"><rect x="1864" y="2667" width="248" height="25"/><text x="1988" y="2677.3">总的来说百科全书派是机械唯物主义，在领导人民反封建迷信方面做出了卓越<tspan x="1988" dy="9.3">贡献</tspan></text></g>
<g id="b3e1" class="b"><rect x="1864" y="2703" width="248" height="35"/><text x="1988" y="2713.7">弗朗索瓦·魁奈是重农学派的创始人，在他看来，扣除了全部生产费用剩下来<tspan x="1988" dy="9.3">的产品就是“纯产品”，只有农业才能生产出来“纯产品”，因此农业是唯</tspan><tspan x="1988" dy="9.3">一的生产部门，所以占有土地的地主应该负担国家所有税收。</tspan></text></g>
<g id="b3e2" class="b"><rect x="1864" y="2747" width="248" height="25"/><text x="1988" y="2757.3">鼓励租农家向地主租地，发展资本主义农业，放任政策，只向地主征收单一<tspan x="1988" dy="9.3">土地税</tspan></text></g>
<g id="b3f1" class="b"><rect x="1864" y="2783" width="248" height="16"/><text x="1988" y="2793.5">梅叶、马布利、摩莱里</text></g>

<!-- ORANGE -->
<g id="o0" class="lab"><rect x="1039" y="1023" width="126" height="16" rx="8" fill="#f3953f"/><text x="1102" y="1033.7">二、分崩离析与经济落后的德意志</text></g>
<g id="o1" class="o"><rect x="936" y="570" width="94" height="16"/><text x="983" y="580.5">三十年战争</text></g>
<g id="o2" class="o"><rect x="936" y="783.5" width="94" height="16"/><text x="983" y="794">经济落后与农奴制二版</text></g>
<g id="o3" class="o"><rect x="936" y="908.5" width="94" height="16"/><text x="983" y="919">奥地利帝国</text></g>
<g id="o4" class="o"><rect x="936" y="1085.5" width="94" height="16"/><text x="983" y="1096">奥地利的“开明专制”</text></g>
<g id="o5" class="o"><rect x="936" y="1339" width="94" height="25"/><text x="983" y="1349.3">普鲁士的兴起与“军营国<tspan x="983" dy="9.3">家”</tspan></text></g>
<g id="o6" class="o"><rect x="936" y="1475.5" width="94" height="16"/><text x="983" y="1486">普鲁士的“开明专制”</text></g>

<g id="o1a" class="o"><rect x="600" y="429" width="326" height="16"/><text x="763" y="439.5">十七世纪的德意志仍处于分裂状态</text></g>
<g id="o1b" class="o"><rect x="600" y="484" width="326" height="16"/><text x="763" y="494.5">背景</text></g>
<g id="o1c" class="o"><rect x="600" y="528" width="326" height="16"/><text x="763" y="538.5">导火索</text></g>
<g id="o1d" class="o"><rect x="600" y="614" width="326" height="16"/><text x="763" y="624.5">正式战争</text></g>
<g id="o1e" class="o"><rect x="600" y="712" width="326" height="16"/><text x="763" y="722.5">《威斯特伐利亚和约》</text></g>
<g id="o1a1" class="o"><rect x="344" y="415" width="247" height="16"/><text x="467.5" y="425.5">内</text></g>
<g id="o1a2" class="o"><rect x="344" y="444" width="247" height="16"/><text x="467.5" y="454.5">外</text></g>
<g id="o1b1" class="o"><rect x="344" y="474" width="247" height="35"/><text x="467.5" y="484.7">1608年，皇帝唆使巴伐利亚公爵武力夺取自由城市多瑙沃特，恢复天主教，<tspan x="467.5" dy="9.3">导致了新教同盟的成立，次年天主教同盟成立，加上外国势力的介入，德国</tspan><tspan x="467.5" dy="9.3">内部争斗实际上演化为了欧洲的国际矛盾，即三十年战争。</tspan></text></g>
<g id="o1c1" class="o"><rect x="344" y="518" width="247" height="35"/><text x="467.5" y="528.7">三十年战争的直接爆发原因是1618年波西米亚王位空缺，皇帝马提亚想安排<tspan x="467.5" dy="9.3">斐迪南公爵遭到波西米亚贵族反对，把皇帝的使者从窗户扔了出去，即“掷</tspan><tspan x="467.5" dy="9.3">出窗外事件”引发了三十年战争。</tspan></text></g>
<g id="o1d1" class="o"><rect x="344" y="563" width="247" height="16"/><text x="467.5" y="573.5">波西米亚时期（1618-1625）</text></g>
<g id="o1d2" class="o"><rect x="344" y="594" width="247" height="16"/><text x="467.5" y="604.5">丹麦时期（1625-1629）</text></g>
<g id="o1d3" class="o"><rect x="344" y="629" width="247" height="16"/><text x="467.5" y="639.5">瑞典时期（1630-1635）</text></g>
<g id="o1d4" class="o"><rect x="344" y="664" width="247" height="16"/><text x="467.5" y="674.5">瑞典-法国时期（1635-1648）</text></g>
<g id="o1e1" class="o"><rect x="344" y="695" width="247" height="16"/><text x="467.5" y="705.5">内容</text></g>
<g id="o1e2" class="o"><rect x="344" y="730" width="247" height="16"/><text x="467.5" y="740.5">影响</text></g>
<g id="o1a1a" class="o"><rect x="18" y="415" width="315" height="16"/><text x="175.5" y="425.5">内部新教诸侯与天主教诸侯的分裂，中央集权势力与地方分裂势力的分裂。</text></g>
<g id="o1a2a" class="o"><rect x="18" y="439" width="315" height="25"/><text x="175.5" y="449.3">外部西班牙支持哈布斯堡家族的神圣罗马帝国皇帝，英法荷支持新教，不希望德国统一，觊觎<tspan x="175.5" dy="9.3">德国土地。</tspan></text></g>
<g id="o1d1a" class="o"><rect x="18" y="563" width="315" height="16"/><text x="175.5" y="573.5">1619年布拉格议会选举的波西米亚国王腓特烈五世和即位皇帝的斐迪南，波西米亚战败。</text></g>
<g id="o1d2a" class="o"><rect x="18" y="590" width="315" height="25"/><text x="175.5" y="600.3">丹麦国王克里斯蒂安四世觊觎德国土地，1625年在英荷支持下进入德国，战争演化为国际战争，战败<tspan x="175.5" dy="9.3">，签订了《吕贝克条约》，不再干涉德国事务，百年来的宗教改革运动成果面临毁灭</tspan></text></g>
<g id="o1d3a" class="o"><rect x="18" y="625" width="315" height="25"/><text x="175.5" y="635.3">瑞典国王古斯塔夫·阿道夫担心德国强大威胁瑞典的发展，1630年在法国支持下进入德国，有胜有<tspan x="175.5" dy="9.3">负，此时德国国内诸侯和解，瑞典撤退</tspan></text></g>
<g id="o1d4a" class="o"><rect x="18" y="660" width="315" height="25"/><text x="175.5" y="670.3">法国出于打击哈布斯堡家族和西班牙的目的，联合瑞典、荷兰和部分新教小国，双方互有胜负，僵<tspan x="175.5" dy="9.3">持不下，加之国内危机，最后签订了《威斯特伐利亚和约》，战争结束。</tspan></text></g>
<g id="o1e1a" class="o"><rect x="18" y="695" width="315" height="16"/><text x="175.5" y="705.5">法国、瑞典取得土地，德意志小诸侯领地扩大，荷兰独立，新教天主教享有同等地位。</text></g>
<g id="o1e2a" class="o"><rect x="18" y="720" width="315" height="35"/><text x="175.5" y="730.7">威斯特伐利亚和约沉重打击了哈布斯堡家族，德意志进一步分裂，西班牙实力削弱，法国出任国际<tspan x="175.5" dy="9.3">事务，开创了国际会议解决国际战争的先例，打破了罗马教皇神权下的世界主权论，使以后国际争</tspan><tspan x="175.5" dy="9.3">端的解决开始摆脱神权的束缚。</tspan></text></g>

<g id="o2a" class="o"><rect x="600" y="765" width="326" height="16"/><text x="763" y="775.5">经济落后</text></g>
<g id="o2b" class="o"><rect x="600" y="803" width="326" height="16"/><text x="763" y="813.5">农奴制二版</text></g>
<g id="o2a1" class="o"><rect x="344" y="765" width="247" height="16"/><text x="467.5" y="775.5">原因</text></g>
<g id="o2b1" class="o"><rect x="344" y="790" width="247" height="16"/><text x="467.5" y="800.5">原因</text></g>
<g id="o2b2" class="o"><rect x="344" y="816" width="247" height="16"/><text x="467.5" y="826.5">影响</text></g>
<g id="o2a1a" class="o"><rect x="18" y="765" width="315" height="16"/><text x="175.5" y="775.5">三十年战争（农民逃跑，贵族收回了荒芜的土地，结束后农民就变为了农奴）和国内分裂</text></g>
<g id="o2b1a" class="o"><rect x="18" y="790" width="315" height="16"/><text x="175.5" y="800.5">对粮食的需求使得地主加大了对农民的剥削，恢复农奴制，德国容克势力强大随意掠夺农民。</text></g>
<g id="o2b2a" class="o"><rect x="18" y="816" width="315" height="16"/><text x="175.5" y="826.5">阻塞了劳动力，限制了国内市场的扩大，存在沦为原料产地的风险。</text></g>

<g id="o3a" class="o"><rect x="600" y="841" width="326" height="16"/><text x="763" y="851.5">奥地利位于德意志东南，物产丰富，交通便利，经济表现比较发达。</text></g>
<g id="o3b" class="o"><rect x="600" y="866" width="326" height="25"/><text x="763" y="876.3">中世纪早期，奥地利是东法兰克王国的一个边区，神圣罗马帝国建立后派驻行政长官，开启了巴本堡<tspan x="763" dy="9.3">家族270年的统治，绝嗣后落入波西米亚手里，后被哈布斯堡家族武力夺回，直到一战。</tspan></text></g>
<g id="o3c" class="o"><rect x="600" y="901" width="326" height="25"/><text x="763" y="911.3">1396年，奥地利领议会召开，标志奥地利开始作为一个国家实体出现在历史舞台上，之后由于哈布斯<tspan x="763" dy="9.3">堡家族的兴盛，奥地利成为了帝国内部最强大的邦。</tspan></text></g>
<g id="o3d" class="o"><rect x="600" y="936" width="326" height="25"/><text x="763" y="946.3">马克西米连一世时，就开始加强中央集权，其孙子斐迪南一世进一步发展君主专制，他们的改革使得奥<tspan x="763" dy="9.3">地利在16世纪初就成为君主专制的国家</tspan></text></g>
<g id="o3e" class="o"><rect x="600" y="971" width="326" height="25"/><text x="763" y="981.3">奥地利国内的领地却存在独立性，但都属于哈布斯堡家族，其中波西米亚和匈牙利独立性较强，此时<tspan x="763" dy="9.3">的奥地利还是以血缘连接的领地共同体。</tspan></text></g>

<g id="o4a" class="o"><rect x="600" y="1007" width="326" height="25"/><text x="763" y="1017.3">三十年战争结束后，德意志分裂局面形成，奥地利则逐渐上升为强国，扩张的同时经济也有所发展，<tspan x="763" dy="9.3">但是帝国内部却矛盾重重。</tspan></text></g>
<g id="o4b" class="o"><rect x="600" y="1042" width="326" height="25"/><text x="763" y="1052.3">波西米亚地区民族矛盾与阶级矛盾并存，匈牙利地区本土地主与奥地利地主的权力纷争，帝国境内农奴<tspan x="763" dy="9.3">制强化，有时候会转化为农民的反抗斗争，同时专制政府与大贵族之间也有矛盾。</tspan></text></g>
<g id="o4c" class="o"><rect x="600" y="1155" width="326" height="25"/><text x="763" y="1165.3">1740-1748年的奥地利王位继承战争中奥地利失败，促使帝国政府改革，领导者女皇玛丽亚·特蕾莎与<tspan x="763" dy="9.3">其子约瑟夫二世。</tspan></text></g>
<g id="o4c1" class="o"><rect x="344" y="1077" width="247" height="16"/><text x="467.5" y="1087.5">土地改革，减少租税，约瑟夫时期宣布农奴为自由人</text></g>
<g id="o4c2" class="o"><rect x="344" y="1102" width="247" height="16"/><text x="467.5" y="1112.5">宗教改革，没收天主教财产，给予其他宗教平等地位</text></g>
<g id="o4c3" class="o"><rect x="344" y="1128" width="247" height="16"/><text x="467.5" y="1138.5">限制地主，取消地主收税权，限制裁判权</text></g>
<g id="o4c4" class="o"><rect x="344" y="1153" width="247" height="16"/><text x="467.5" y="1163.5">奖励工商业，保护关税，成立国家工厂</text></g>
<g id="o4c5" class="o"><rect x="344" y="1192" width="247" height="16"/><text x="467.5" y="1202.5">同时加强中央集权</text></g>
<g id="o4c6" class="o"><rect x="344" y="1230" width="247" height="44"/><text x="467.5" y="1240.5">改革都是在“开明专制”的招牌下进行的，开明专制是落后欧洲君主玩弄的<tspan x="467.5" dy="9.3">把戏，表面上按照启蒙思想家的主张来改革，实际上是表面文章，这些改革</tspan><tspan x="467.5" dy="9.3">还有致命弱点，君主操之过急，单凭强制命令，缺乏深入细致的工作和充分</tspan><tspan x="467.5" dy="9.3">的准备，改革流于表面，约瑟夫二世死后改革成果很快消失。</tspan></text></g>
<g id="o4c5a" class="o"><rect x="18" y="1179" width="315" height="16"/><text x="175.5" y="1189.5">建立领地行政和财务最高机构“公共及宫廷事务管理部”，加强对政权的控制</text></g>
<g id="o4c5b" class="o"><rect x="18" y="1204" width="315" height="16"/><text x="175.5" y="1214.5">建立审判制度、书报检查制度、司法与行政分离，庞大的官僚层。</text></g>

<g id="o5a" class="o"><rect x="600" y="1284" width="326" height="16"/><text x="763" y="1294.5">普鲁士是靠不断扩张领土发展起来的，统治者是霍亨索伦家族。</text></g>
<g id="o5b" class="o"><rect x="600" y="1315" width="326" height="16"/><text x="763" y="1325.5">经济</text></g>
<g id="o5c" class="o"><rect x="600" y="1359" width="326" height="16"/><text x="763" y="1369.5">政治</text></g>
<g id="o5d" class="o"><rect x="600" y="1399" width="326" height="25"/><text x="763" y="1409.3">1723年只属于国王的“财政、军事与王室领地最高总管理处”宣告“普鲁士精神”的形成，即专制主<tspan x="763" dy="9.3">义+军国主义</tspan></text></g>
<g id="o5b1" class="o"><rect x="344" y="1310" width="247" height="25"/><text x="467.5" y="1320.3">普鲁士的崛起是有经济原因的：1勃兰登堡的地理位置，2霍亨索伦王朝采取<tspan x="467.5" dy="9.3">保护工商业的政策（大量法国胡格诺教徒流亡至此）</tspan></text></g>
<g id="o5c1" class="o"><rect x="344" y="1344" width="247" height="44"/><text x="467.5" y="1354.5">军国主义政策，通过给予容克（农奴地主，普鲁士的王政基础）压迫农民的<tspan x="467.5" dy="9.3">权利获得其建立常备军的支持，平时军训农产，战时将兵出征，甚至夺取了议</tspan><tspan x="467.5" dy="9.3">会的征税权，兼批力征税，并把军事工作扩展到整个经济领域，然后建立了</tspan><tspan x="467.5" dy="9.3">一整套以军官为核心的行政体系。</tspan></text></g>

<g id="o6a" class="o"><rect x="600" y="1434" width="326" height="16"/><text x="763" y="1444.5">腓特烈二世治下的普鲁士跻身成为欧洲强国，他自己也获得“腓特烈大王”的称号。</text></g>
<g id="o6b" class="o"><rect x="600" y="1459" width="326" height="44"/><text x="763" y="1469.5">腓特烈二世崇尚启蒙思想，实质上依旧专制开明，实际上腓特烈二世时期权力变得更加集中，政<tspan x="763" dy="9.3">府以高效率著称（从奥地利手中夺取的西里西亚征收来的税款是维持奥地利所征的税的两倍），收</tspan><tspan x="763" dy="9.3">税的目的在于维持军队，扩张领土是普鲁士开明专制的基本出发点，腓特烈二世还采取了一些发展经</tspan><tspan x="763" dy="9.3">济的措施来增加税收维持军队，进一步扩张。</tspan></text></g>
<g id="o6c" class="o"><rect x="600" y="1513" width="326" height="25"/><text x="763" y="1523.3">普鲁士的开明专制是把启蒙为普鲁士精神寻找一些理性根据，他的结果是使得普鲁士变得更专制、更<tspan x="763" dy="9.3">军国主义化了。</tspan></text></g>

<!-- GREEN -->
<g id="g0" class="lab"><rect x="1039" y="1746" width="126" height="17" rx="8.5" fill="#1fb477"/><text x="1102" y="1757.2">四、波兰、瑞典和丹麦</text></g>
<g id="g1" class="g"><rect x="936" y="1635.5" width="94" height="16"/><text x="983" y="1646">波兰</text></g>
<g id="g2" class="g"><rect x="936" y="1856" width="94" height="16"/><text x="983" y="1866.5">瑞典和丹麦</text></g>
<g id="g1a" class="g"><rect x="600" y="1548" width="326" height="25"/><text x="763" y="1558.3">16-17世纪上半叶波兰是一个东欧强国，18世纪末就被列国瓜分，波兰的衰落主要是内部原因造成的<tspan x="763" dy="9.3">，不利的国际环境只是外因。</tspan></text></g>
<g id="g1b" class="g"><rect x="600" y="1641" width="326" height="16"/><text x="763" y="1651.5">十六世纪的波兰处于上升阶段，但内部却充满隐患</text></g>
<g id="g1c" class="g"><rect x="600" y="1713" width="326" height="25"/><text x="763" y="1723.3">统治阶级中也有人试图扭转局势，国王加西米尔和索比斯基都企图加强王权但都失败了，同时由于外<tspan x="763" dy="9.3">国的介入，1795年独立的波兰从地图上消失了。</tspan></text></g>
<g id="g1b1" class="g"><rect x="344" y="1593" width="247" height="16"/><text x="467.5" y="1603.5">政治</text></g>
<g id="g1b2" class="g"><rect x="344" y="1628" width="247" height="16"/><text x="467.5" y="1638.5">经济</text></g>
<g id="g1b3" class="g"><rect x="344" y="1658" width="247" height="16"/><text x="467.5" y="1668.5">宗教</text></g>
<g id="g1b4" class="g"><rect x="344" y="1688" width="247" height="16"/><text x="467.5" y="1698.5">总之</text></g>
<g id="g1b1a" class="g"><rect x="18" y="1583" width="315" height="35"/><text x="175.5" y="1593.7">数量极为庞大的小贵族依附于大贵族，每十个人就有一个贵族，贵族势力的强大造成严重的政治危<tspan x="175.5" dy="9.3">机，小贵族各自为政，不考虑国家整体利益（自由否决权），中央的官僚最大的受益者是大贵族，</tspan><tspan x="175.5" dy="9.3">小贵族依附于他们也获得利益，将大贵族又存在分歧，于是产生了一个又一个国中之国。</tspan></text></g>
<g id="g1b2a" class="g"><rect x="18" y="1628" width="315" height="16"/><text x="175.5" y="1638.5">农业始终是主要经济部门，以及随之而来的农奴制，同时工商业由于小贵族的控制亦步亦趋。</text></g>
<g id="g1b3a" class="g"><rect x="18" y="1653" width="315" height="25"/><text x="175.5" y="1663.3">新教所表现出来的政治经济倾向受到了贵族利益者的反对，因此新教在波兰反而加强了贵族的保守<tspan x="175.5" dy="9.3">倾向。</tspan></text></g>
<g id="g1b4a" class="g"><rect x="18" y="1688" width="315" height="16"/><text x="175.5" y="1698.5">当时几乎欧洲都在形成民族国家，但是波兰却在解体，力量分散。</text></g>
<g id="g2a" class="g"><rect x="600" y="1811" width="326" height="16"/><text x="763" y="1821.5">瑞典</text></g>
<g id="g2b" class="g"><rect x="600" y="1902" width="326" height="16"/><text x="763" y="1912.5">丹麦</text></g>
<g id="g2a1" class="g"><rect x="344" y="1749" width="247" height="44"/><text x="467.5" y="1759.5">瑞典脱离丹麦后，瓦萨王朝建立起君主专制制度，有利的国际环境使得瑞典<tspan x="467.5" dy="9.3">迅速发展为军事强国，1611年古斯塔夫·阿道尔夫把瑞典推上了强国的位置，</tspan><tspan x="467.5" dy="9.3">他发展经济，鼓励生产，实行货币税，义务征兵制，把经济收入用于发展军</tspan><tspan x="467.5" dy="9.3">事，创造了瑞典奇迹</tspan></text></g>
<g id="g2a2" class="g"><rect x="344" y="1803" width="247" height="35"/><text x="467.5" y="1813.7">此时周边国家都建立了君主专制制度，其军事制度和战略都被效仿，瑞典资<tspan x="467.5" dy="9.3">源不足，人将稀少的缺点就暴露出来，北方战争中被俄国打败，失去了大国</tspan><tspan x="467.5" dy="9.3">地位。</tspan></text></g>
<g id="g2a3" class="g"><rect x="344" y="1847" width="247" height="35"/><text x="467.5" y="1857.7">国外的失败导致国内的权利变化，人们专制王权不能在保护国家，瑞典走上<tspan x="467.5" dy="9.3">了君主立宪的道路，议会中分为礼帽派和便帽派，1809年古斯塔夫四世被推</tspan><tspan x="467.5" dy="9.3">翻，君主立宪制确立下来。</tspan></text></g>
<g id="g2b1" class="g"><rect x="344" y="1893" width="247" height="35"/><text x="467.5" y="1903.7">十四世纪末丹麦吞并瑞典和挪威，之后的战争屡屡失败，最终丹麦由腓特烈<tspan x="467.5" dy="9.3">三世完成了君主制的转变，克里斯蒂安五世时期制定了丹麦法君主制在丹麦确</tspan><tspan x="467.5" dy="9.3">立起来，直到1848年革命才被废除，国家狭小且没有制度优势，平平无奇。</tspan></text></g>

<g id="watermarks">
<text class="wm" x="356" y="721" transform="rotate(-34 356 721)"><tspan style="font-family:'Noto Sans CJK SC',sans-serif">树图</tspan><tspan style="font-family:'Liberation Serif',serif;font-style:italic"> shutu.cn</tspan></text>
<text class="wm" x="1639" y="730" transform="rotate(-34 1639 730)"><tspan style="font-family:'Noto Sans CJK SC',sans-serif">树图</tspan><tspan style="font-family:'Liberation Serif',serif;font-style:italic"> shutu.cn</tspan></text>
<text class="wm" x="356" y="1686" transform="rotate(-34 356 1686)"><tspan style="font-family:'Noto Sans CJK SC',sans-serif">树图</tspan><tspan style="font-family:'Liberation Serif',serif;font-style:italic"> shutu.cn</tspan></text>
<text class="wm" x="1639" y="1676" transform="rotate(-34 1639 1676)"><tspan style="font-family:'Noto Sans CJK SC',sans-serif">树图</tspan><tspan style="font-family:'Liberation Serif',serif;font-style:italic"> shutu.cn</tspan></text>
<text class="wm" x="356" y="2678" transform="rotate(-34 356 2678)"><tspan style="font-family:'Noto Sans CJK SC',sans-serif">树图</tspan><tspan style="font-family:'Liberation Serif',serif;font-style:italic"> shutu.cn</tspan></text>
<text class="wm" x="1639" y="2678" transform="rotate(-34 1639 2678)"><tspan style="font-family:'Noto Sans CJK SC',sans-serif">树图</tspan><tspan style="font-family:'Liberation Serif',serif;font-style:italic"> shutu.cn</tspan></text>
</g>
</svg>
